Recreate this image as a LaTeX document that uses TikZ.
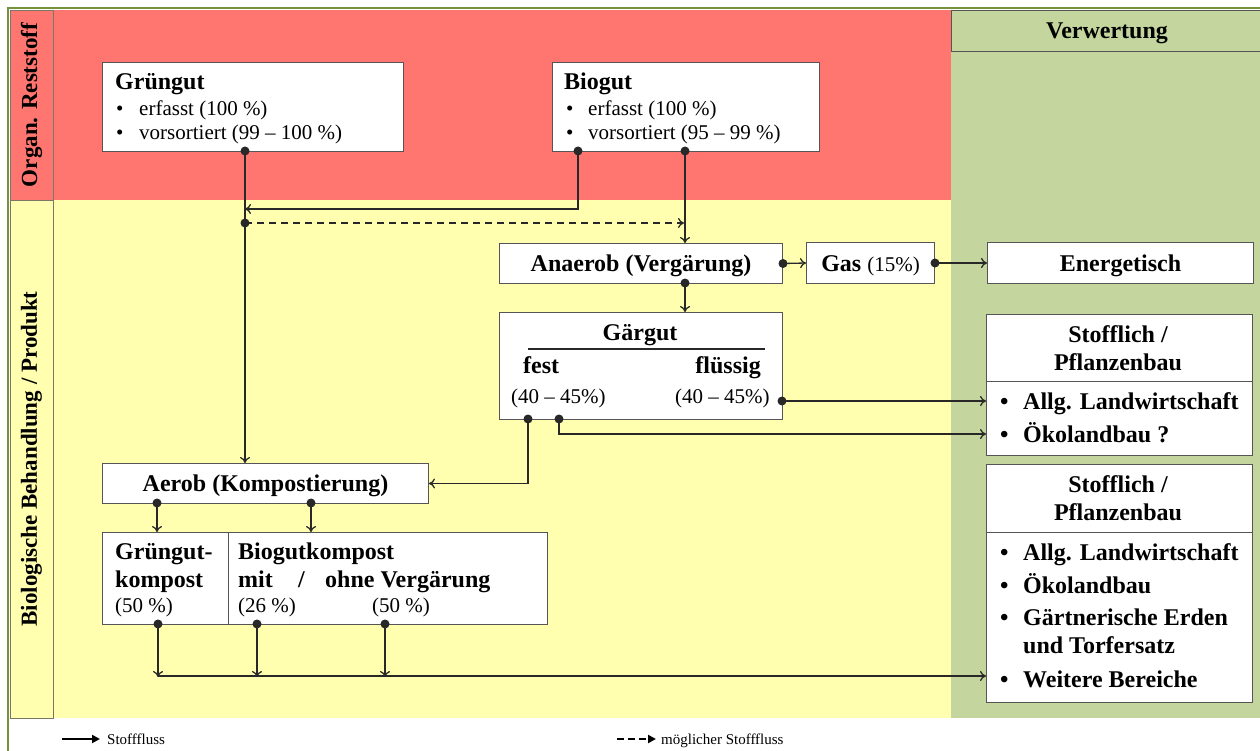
\documentclass[tikz,border=0pt]{standalone}
\usepackage{fontspec}
\setmainfont{Liberation Serif}
\usetikzlibrary{arrows.meta,calc}
\definecolor{redbg}{RGB}{255,117,112}
\definecolor{yelbg}{RGB}{255,255,175}
\definecolor{grnbg}{RGB}{196,214,158}
\definecolor{grnline}{RGB}{118,146,60}
\definecolor{boxline}{RGB}{85,85,85}
\definecolor{labline}{RGB}{120,120,100}
\definecolor{linec}{RGB}{40,40,40}
\begin{document}
\begin{tikzpicture}[x=1pt,y=-1pt,
  box/.style={draw=boxline, fill=white, line width=1pt, inner sep=0pt, anchor=north west},
  tbox/.style={box, text height=21pt, text depth=5pt, font=\fontsize{24}{28}\selectfont\bfseries},
  body/.style={font=\fontsize{21}{25}\selectfont, inner sep=0pt, anchor=base west},
  bbody/.style={font=\fontsize{24}{28}\selectfont\bfseries, inner sep=0pt, anchor=base west},
  bhead/.style={font=\fontsize{24}{28}\selectfont\bfseries, inner sep=0pt},
  flow/.style={draw=linec, line width=1.3pt, -{To[length=6pt,width=10pt]}},
  plain/.style={draw=linec, line width=1.3pt},
  label/.style={draw=labline, line width=0.8pt, rotate=90, minimum height=43pt, inner sep=0pt, font=\fontsize{23}{27}\selectfont\bfseries},
  legtext/.style={font=\fontsize{15}{18}\selectfont, inner sep=0pt, anchor=base west}
]
\useasboundingbox (0,0) rectangle (1260,751);
\fill[white] (0,0) rectangle (1260,751);
% regions
\fill[redbg] (10,10) rectangle (951,200);
\fill[yelbg] (10,200) rectangle (951,718);
\fill[grnbg] (951,10) rectangle (1260,718);
\draw[grnline, line width=2pt] (8,751) -- (8,8) -- (1260,8);
% side labels
\node[label, fill=redbg, minimum width=190pt] (lab1) at (31.5,105) {Organ. Reststoff};
\node[label, fill=yelbg, minimum width=518pt] (lab2) at (31.5,459) {Biologische Behandlung / Produkt};
\node[tbox, fill=grnbg, minimum width=311pt, minimum height=41pt] (verw) at (951,10) {Verwertung};

% Grüngut
\node[box, minimum width=301pt, minimum height=89pt] (grun) at (102,62) {};
\node[bbody] (grunT) at (115,90) {Grüngut};
\node[body] (grunP1) at (116,116) {•};
\node[body] (grunA) at (139,116) {erfasst (100 \%)};
\node[body] (grunP2) at (116,140) {•};
\node[body] (grunB) at (139,140) {vorsortiert (99 – 100 \%)};

% Biogut
\node[box, minimum width=267pt, minimum height=89pt] (bio) at (552,62) {};
\node[bbody] (bioT) at (564,90) {Biogut};
\node[body] (bioP1) at (566,116) {•};
\node[body] (bioA) at (588,116) {erfasst (100 \%)};
\node[body] (bioP2) at (566,140) {•};
\node[body] (bioB) at (588,140) {vorsortiert (95 – 99 \%)};

% Anaerob, Gas, Energetisch
\node[tbox, minimum width=283pt, minimum height=40pt] (anae) at (499,243) {Anaerob (Vergärung)};
\node[tbox, minimum width=128pt, minimum height=41pt] (gas) at (806,242) {Gas {\mdseries\fontsize{21}{25}\selectfont(15\%)}};
\node[tbox, minimum width=266pt, minimum height=41pt] (ener) at (987,242) {Energetisch};

% Gärgut
\node[box, minimum width=283pt, minimum height=107pt] (garg) at (499,312) {};
\node[bhead, anchor=base] (gargT) at (640,340) {Gärgut};
\coordinate (rl) at (528,349);
\coordinate (rr) at (765,349);
\draw[plain] (rl) -- (rr);
\node[bbody] (fest) at (523,373) {fest};
\node[bhead, anchor=base east] (flues) at (761,373) {flüssig};
\node[body] (festP) at (511,403) {(40 – 45\%)};
\node[body] (fluesP) at (675,403) {(40 – 45\%)};

% Aerob
\node[tbox, minimum width=326pt, minimum height=40pt] (aer) at (102,463) {Aerob (Kompostierung)};

% Kompost
\node[box, minimum width=445pt, minimum height=92pt] (komp) at (102,532) {};
\coordinate (dv1) at (228,532);
\coordinate (dv2) at (228,624);
\draw[draw=boxline, line width=1pt] (dv1) -- (dv2);
\node[bbody] (k1a) at (115,559) {Grüngut-};
\node[bbody] (k1b) at (115,587) {kompost};
\node[body] (k1c) at (115,612) {(50 \%)};
\node[bbody] (k2a) at (238,559) {Biogutkompost};
\node[bbody] (k2b) at (238,587) {mit};
\node[bbody] (k2s) at (298,587) {/};
\node[bbody] (k2c) at (325,587) {ohne Vergärung};
\node[body] (k2d) at (238,612) {(26 \%)};
\node[body] (k2e) at (372,612) {(50 \%)};

% Stofflich 1
\node[box, minimum width=266pt, minimum height=141pt] (st1) at (986,314) {};
\coordinate (s1l) at (986,381);
\coordinate (s1r) at (1252,381);
\draw[draw=boxline, line width=1pt] (s1l) -- (s1r);
\node[bhead, anchor=base] (s1h1) at (1118,342) {Stofflich /};
\node[bhead, anchor=base] (s1h2) at (1118,370) {Pflanzenbau};
\node[bbody] (s1p1) at (1000,409) {•};
\node[bbody] (s1a) at (1023,409) {Allg. Landwirtschaft};
\node[bbody] (s1p2) at (1000,442) {•};
\node[bbody] (s1b) at (1023,442) {Ökolandbau ?};

% Stofflich 2
\node[box, minimum width=266pt, minimum height=238pt] (st2) at (986,464) {};
\coordinate (s2l) at (986,532);
\coordinate (s2r) at (1252,532);
\draw[draw=boxline, line width=1pt] (s2l) -- (s2r);
\node[bhead, anchor=base] (s2h1) at (1118,492) {Stofflich /};
\node[bhead, anchor=base] (s2h2) at (1118,520) {Pflanzenbau};
\node[bbody] (s2p1) at (1000,560) {•};
\node[bbody] (s2a) at (1023,560) {Allg. Landwirtschaft};
\node[bbody] (s2p2) at (1000,593) {•};
\node[bbody] (s2b) at (1023,593) {Ökolandbau};
\node[bbody] (s2p3) at (1000,625) {•};
\node[bbody] (s2c) at (1023,625) {Gärtnerische Erden};
\node[bbody] (s2c2) at (1023,653) {und Torfersatz};
\node[bbody] (s2p4) at (1000,687) {•};
\node[bbody] (s2d) at (1023,687) {Weitere Bereiche};

% connectors
\coordinate (g1) at (245,151);
\coordinate (b1) at (578,151);
\coordinate (b2) at (685,151);
\coordinate (j1) at (245,209);
\coordinate (d1) at (245,223);
\coordinate (d2) at (684,223);
\coordinate (a2) at (685,283);
\coordinate (gr1) at (782,401);
\coordinate (gr2) at (559,419);
\coordinate (gr3) at (528,419);
\coordinate (e2) at (986,434);
\coordinate (ae1) at (157,503);
\coordinate (ae2) at (311,503);
\coordinate (kp1) at (158,624);
\coordinate (kp2) at (257,624);
\coordinate (kp3) at (385,624);
\coordinate (h1) at (158,676);

\draw[flow] (g1) -- (g1 |- aer.north);
\draw[flow] (b1) |- (j1);
\draw[flow, dash pattern=on 7pt off 5pt] (d1) -- (d2);
\draw[flow] (b2) -- (b2 |- anae.north);
\draw[flow] (anae.east) -- (gas.west);
\draw[flow] (gas.east) -- (ener.west);
\draw[flow] (a2) -- (a2 |- garg.north);
\draw[flow] (gr1) -- (gr1 -| st1.west);
\draw[flow] (gr2) |- (e2);
\draw[flow] (gr3) |- (aer.east);
\draw[flow] (ae1) -- (ae1 |- komp.north);
\draw[flow] (ae2) -- (ae2 |- komp.north);
\draw[flow] (kp1) -- ([yshift=-1pt]kp1 |- h1);
\draw[flow] (kp2) -- ([yshift=-1pt]kp2 |- h1);
\draw[flow] (kp3) -- ([yshift=-1pt]kp3 |- h1);
\draw[flow] (h1) -- (h1 -| st2.west);

\foreach \p in {g1,b1,b2,d1,a2,gr1,gr2,gr3,ae1,ae2,kp1,kp2,kp3,anae.east,gas.east}
  \fill[linec] (\p) circle (4.5);

% legend
\coordinate (l1) at (62,739);
\coordinate (l2) at (100,739);
\coordinate (l3) at (617,739);
\coordinate (l4) at (656,739);
\draw[black, line width=2.5pt, -{Triangle[length=8pt,width=8pt]}] (l1) -- (l2);
\node[legtext] (lt1) at (107,744) {Stofffluss};
\draw[black, line width=2.5pt, dash pattern=on 7pt off 4pt, -{Triangle[length=8pt,width=8pt]}] (l3) -- (l4);
\node[legtext] (lt2) at (661,744) {möglicher Stofffluss};
\end{tikzpicture}
\end{document}
